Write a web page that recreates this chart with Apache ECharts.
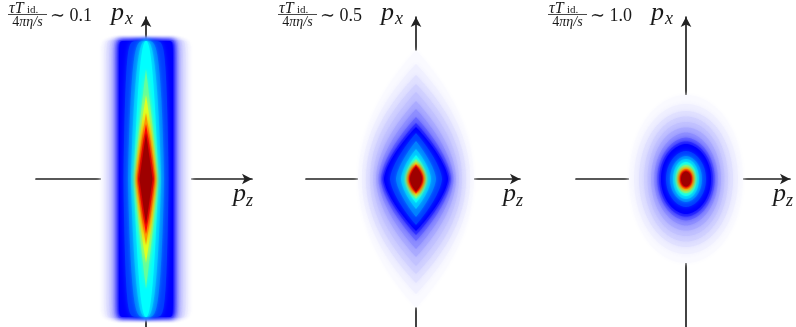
<!DOCTYPE html>
<html>
<head>
<meta charset="utf-8">
<script src="https://cdn.jsdelivr.net/npm/echarts@6/dist/echarts.min.js"></script>
<style>
  html, body { margin: 0; padding: 0; background: #fff; }
  #chart { width: 796px; height: 327px; }
</style>
</head>
<body>
<div id="chart"></div>
<script>
// contour levels (0 = background, 1 = peak), shared by all three panels
const levels = [0.005, 0.015, 0.03, 0.045, 0.06, 0.083, 0.11, 0.15, 0.2, 0.25,
  0.31, 0.375, 0.44, 0.5, 0.6, 0.72, 0.8, 0.87, 0.97];

// tau T / (4 pi eta/s) ~ 0.1 : half-width in pz, half-height in px, contour shape
const pz1 = [45, 42.2, 39.5, 36.7, 34.6, 32.5, 30.8, 29.1, 28, 27, 22.5, 18, 15, 12, 11, 10, 9, 8, 6.5];
const px1 = [139, 139, 139, 139, 139, 139, 139, 139, 138, 138, 138, 138, 138, 138, 110, 84, 66, 55, 46];
const m1 = [30, 30, 30, 30, 30, 30, 30, 30, 30, 30, 1.2, 1.2, 1.2, 1.1, 1.2, 1.3, 1.2, 1.1, 1];
const k1 = [0.033, 0.033, 0.033, 0.033, 0.033, 0.033, 0.033, 0.033, 0.033, 0.033, 0.1, 0.22, 0.35, 0.45, 1, 1, 1, 1, 1];

// ~ 0.5
const pz2 = [58, 54, 50, 46, 43, 40, 37.5, 35, 33.5, 32, 26, 20, 15, 11, 9.5, 8.5, 7.5, 7, 6];
const px2 = [129, 115, 104, 95, 87, 78, 70, 62, 56, 52, 46, 38, 30, 24, 20, 17, 15, 14, 12.5];
const m2 = [2, 2, 2, 2, 1.9, 1.8, 1.7, 1.6, 1.5, 1.5, 1.5, 1.5, 1.6, 1.7, 1.8, 1.8, 1.8, 1.8, 1.8];
const k2 = [1, 1, 1, 1, 1, 1, 1, 1, 1, 1, 1, 1, 1, 1, 1, 1, 1, 1, 1];

// ~ 1.0
const pz3 = [57, 52, 47, 42, 38.5, 35, 31.8, 28.7, 26.8, 25, 20, 16, 13, 10.5, 9, 7.5, 6.5, 6, 5];
const px3 = [84, 75, 68, 62.5, 57, 51.5, 46.5, 41.4, 37.6, 35, 28, 23, 20, 17, 14, 11.5, 10, 8.5, 7.5];
const m3 = [2, 2, 2, 2, 2, 2, 2, 2, 2, 2, 2, 2, 2, 2, 2, 2, 2, 2, 2];
const k3 = [0.5, 0.5, 0.5, 0.5, 0.5, 0.5, 0.55, 0.55, 0.55, 0.55, 0.55, 0.55, 0.5, 0.5, 0.5, 0.5, 0.5, 0.5, 0.5];

const ratios = ["0.1", "0.5", "1.0"];

const jet = ["#ffffff", "#8080ff", "#0000ff", "#0080ff", "#00ffff", "#80ff80", "#ffff00", "#ff0000", "#800000"];

const panels = [
  { axisX: 146, left: 36, width: 216, xMax: 106, contours: [pz1, px1, m1, k1] },
  { axisX: 416, left: 306, width: 214, xMax: 104, contours: [pz2, px2, m2, k2] },
  { axisX: 686, left: 576, width: 214, xMax: 104, contours: [pz3, px3, m3, k3] },
];

const ink = "#1a1a1a";
const serif = '"Liberation Serif", "DejaVu Serif", serif';

function buildContours([pz, px, m, k]) {
  return levels.map((v, i) => [v, pz[i], px[i], m[i], k[i]]);
}

function renderContour(params, api) {
  const a = api.value(1);
  const b = api.value(2);
  const m = api.value(3);
  const k = api.value(4);
  const right = [];
  const left = [];
  const steps = 160;
  for (let i = 0; i <= steps; i++) {
    const c = Math.cos((Math.PI * i) / steps);
    const w = a * Math.pow(Math.max(0, 1 - Math.pow(Math.abs(c), m)), k);
    right.push(api.coord([w, b * c]));
    left.unshift(api.coord([-w, b * c]));
  }
  const color = api.visual("color");
  return {
    type: "polygon",
    shape: { points: right.concat(left) },
    style: { fill: color, shadowBlur: 5, shadowColor: color },
  };
}

const axisLine = {
  show: true,
  onZero: true,
  symbol: ["none", "arrow"],
  symbolSize: [8, 10],
  lineStyle: { color: "#222", width: 1.7 },
};

function textLabels(panel, i) {
  const ax = panel.axisX;
  return [
    { type: "text", x: ax - 137, y: 1, style: { text: "τT", font: "italic 16px " + serif, fill: ink } },
    { type: "text", x: ax - 119, y: 5, style: { text: "id.", font: "11px " + serif, fill: ink } },
    {
      type: "line",
      shape: { x1: ax - 138, y1: 14.5, x2: ax - 99, y2: 14.5 },
      style: { stroke: ink, lineWidth: 0.8 },
    },
    {
      type: "text",
      x: ax - 118.5,
      y: 15,
      style: {
        text: "{u|4}{i|πη/s}",
        align: "center",
        rich: {
          u: { font: "14px " + serif, fill: ink },
          i: { font: "italic 14px " + serif, fill: ink },
        },
      },
    },
    { type: "text", x: ax - 96, y: 7, style: { text: "∼ " + ratios[i], font: "18px " + serif, fill: ink } },
    { type: "text", x: ax - 35, y: 0, style: { text: "p", font: "italic 26px " + serif, fill: ink } },
    { type: "text", x: ax - 21, y: 10, style: { text: "x", font: "italic 18px " + serif, fill: ink } },
    { type: "text", x: ax + 87, y: 181, style: { text: "p", font: "italic 26px " + serif, fill: ink } },
    { type: "text", x: ax + 100, y: 192, style: { text: "z", font: "italic 18px " + serif, fill: ink } },
  ];
}

const chart = echarts.init(document.getElementById("chart"));

chart.setOption({
  animation: false,
  backgroundColor: "#ffffff",
  grid: panels.map((p) => ({ left: p.left, width: p.width, top: 17, bottom: 0 })),
  xAxis: panels.map((p, i) => ({
    type: "value",
    gridIndex: i,
    min: -110,
    max: p.xMax,
    axisLine: axisLine,
    axisTick: { show: false },
    axisLabel: { show: false },
    splitLine: { show: false },
  })),
  yAxis: panels.map((p, i) => ({
    type: "value",
    gridIndex: i,
    min: -148,
    max: 162,
    axisLine: axisLine,
    axisTick: { show: false },
    axisLabel: { show: false },
    splitLine: { show: false },
  })),
  visualMap: {
    type: "continuous",
    show: false,
    min: 0,
    max: 1,
    dimension: 0,
    seriesIndex: [0, 1, 2],
    inRange: { color: jet },
  },
  series: panels.map((p, i) => ({
    type: "custom",
    xAxisIndex: i,
    yAxisIndex: i,
    silent: true,
    clip: false,
    renderItem: renderContour,
    data: buildContours(p.contours),
  })),
  graphic: panels.flatMap(textLabels),
});
</script>
</body>
</html>
